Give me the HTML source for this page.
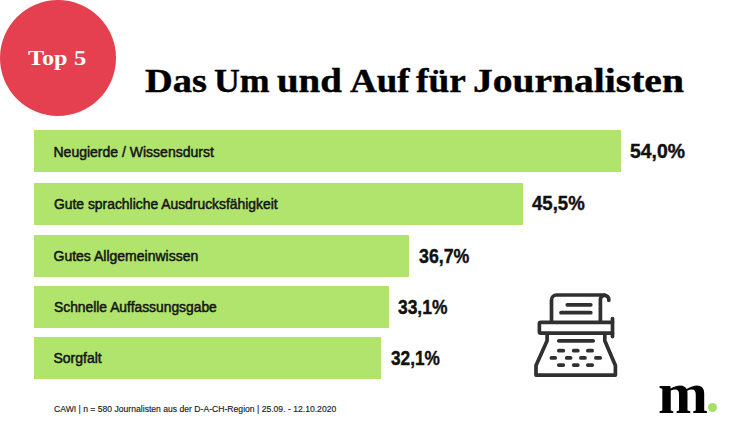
<!DOCTYPE html>
<html><head><meta charset="utf-8">
<style>
html,body{margin:0;padding:0;background:#fff;}
body{width:748px;height:437px;position:relative;overflow:hidden;font-family:"Liberation Sans",sans-serif;}
.abs{position:absolute;white-space:nowrap;}
.circle{position:absolute;left:0.1px;top:0px;width:116px;height:116px;border-radius:50%;background:#E4404F;}
.top5{position:absolute;left:0;top:47px;font-family:"Liberation Serif",serif;font-weight:bold;font-size:22px;line-height:1;color:#fff;}
.t5{position:absolute;top:0;transform-origin:0 0;white-space:nowrap;}
.title{position:absolute;left:0;top:64.8px;font-family:"Liberation Serif",serif;font-weight:bold;font-size:33px;line-height:1;color:#000;}
.tw{position:absolute;top:0;white-space:nowrap;transform-origin:0 0;-webkit-text-stroke:0.4px #000;}
.bar{position:absolute;left:34px;height:42px;background:#B1E46C;}
.lab{position:absolute;left:53.5px;font-size:14px;-webkit-text-stroke:0.5px #151515;line-height:1;color:#151515;}
.pct{position:absolute;font-size:19.5px;font-weight:bold;line-height:1;color:#111;-webkit-text-stroke:0.4px #111;transform-origin:0 0;}
.foot{position:absolute;left:54px;top:405px;transform:scaleX(0.956);transform-origin:0 0;font-size:9px;line-height:1;color:#1a1a1a;-webkit-text-stroke:0.15px #1a1a1a;}
.logo{position:absolute;left:658px;top:362.6px;font-family:"Liberation Serif",serif;font-weight:bold;font-size:60px;line-height:1;color:#000;}
.dot{position:absolute;left:707.8px;top:403.3px;width:9px;height:9px;border-radius:50%;background:#A6E069;}
</style></head><body>
<div class="circle"></div>
<div class="top5"><span class="t5" style="left:28.4px;transform:scaleX(1.103)">Top</span><span class="t5" style="left:74px;transform:scaleX(1.12)">5</span></div>
<div class="title"><span class="tw" style="left:145.3px;transform:scaleX(1.165)">Das</span><span class="tw" style="left:213.8px;transform:scaleX(1.084)">Um</span><span class="tw" style="left:277.2px;transform:scaleX(1.178)">und</span><span class="tw" style="left:349.5px;transform:scaleX(1.120)">Auf</span><span class="tw" style="left:415.9px;transform:scaleX(1.133)">für</span><span class="tw" style="left:472.7px;transform:scaleX(1.198)">Journalisten</span></div>

<div class="bar" style="top:130px;width:587px"></div>
<div class="lab" style="top:145px">Neugierde / Wissensdurst</div>
<div class="pct" style="left:629.8px;top:142px;transform:scaleX(0.993)">54,0%</div>

<div class="bar" style="top:183px;width:489px"></div>
<div class="lab" style="top:197px;transform:scaleX(0.991);transform-origin:0 0">Gute sprachliche Ausdrucksfähigkeit</div>
<div class="pct" style="left:531.8px;top:194px;transform:scaleX(0.953)">45,5%</div>

<div class="bar" style="top:235px;width:375px"></div>
<div class="lab" style="top:249px">Gutes Allgemeinwissen</div>
<div class="pct" style="left:418.6px;top:247px;transform:scaleX(0.911)">36,7%</div>

<div class="bar" style="top:286px;width:355px"></div>
<div class="lab" style="top:300px;transform:scaleX(0.988);transform-origin:0 0">Schnelle Auffassungsgabe</div>
<div class="pct" style="left:397.8px;top:298px;transform:scaleX(0.893)">33,1%</div>

<div class="bar" style="top:337px;width:347px"></div>
<div class="lab" style="top:351px">Sorgfalt</div>
<div class="pct" style="left:391px;top:349px;transform:scaleX(0.885)">32,1%</div>

<div class="foot">CAWI | n = 580 Journalisten aus der D-A-CH-Region | 25.09. - 12.10.2020</div>

<svg class="abs" style="left:0;top:0" width="748" height="437" viewBox="0 0 748 437">
<g fill="none" stroke="#303030" stroke-width="3.7" stroke-linecap="round" stroke-linejoin="round">
<path d="M551.5 321 V300 a5 5 0 0 1 5 -5 H604.6"/>
<path d="M600.4 321 V299.6 A4.2 4.2 0 0 1 608.8 299.6 V300.2"/>
<path d="M567.3 304.8 H590.8 M561 312.7 H590.8"/>
<path d="M612.5 322.3 H540.8 a1.4 1.4 0 0 0 -1.4 1.4 V331.8 a1.4 1.4 0 0 0 1.4 1.4 H612.5"/>
<path d="M612.5 318.6 V336.6"/>
<path d="M547.1 334 V340.8 L536 365.5 V375.1 H615.4 V365.5 L604.8 340.8 V334"/>
<path d="M558.8 340.8 H593.2"/>
<path d="M558.8 350.7 H563.3 M573.7 350.7 H577.8 M587.8 350.7 H592.2"/>
<path d="M551.4 357.9 H555.2 M566.7 357.9 H570.6 M580.9 357.9 H585 M595.9 357.9 H600.2"/>
<path d="M558.8 365.1 H563.3 M573.7 365.1 H577.8 M587.8 365.1 H592.2"/>
</g>
</svg>

<div class="logo">m</div>
<div class="dot"></div>
</body></html>
